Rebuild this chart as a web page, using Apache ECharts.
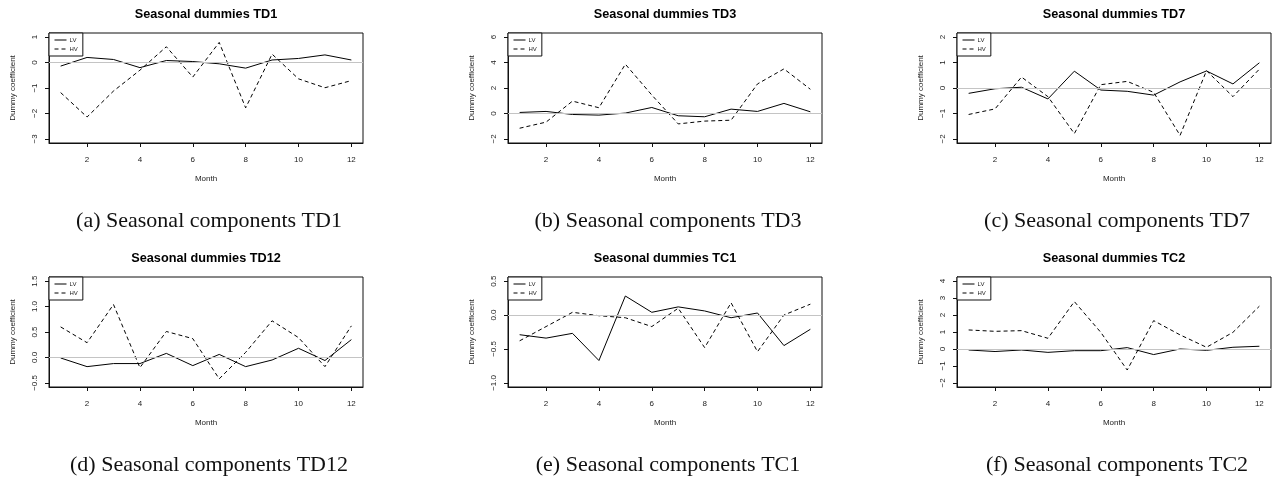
<!DOCTYPE html>
<html>
<head>
<meta charset="utf-8">
<script src="https://cdn.jsdelivr.net/npm/echarts@6/dist/echarts.min.js"></script>
<style>
  html, body { margin: 0; padding: 0; background: #fff; }
  #main { width: 1272px; height: 478px; }
</style>
</head>
<body>
<div id="main"></div>
<script>
// data
var months = [1, 2, 3, 4, 5, 6, 7, 8, 9, 10, 11, 12];
var monthTicks = [2, 4, 6, 8, 10, 12];

var td1LV = [-0.14, 0.20, 0.12, -0.20, 0.08, 0.04, -0.05, -0.22, 0.10, 0.16, 0.30, 0.10];
var td1HV = [-1.18, -2.14, -1.12, -0.30, 0.62, -0.57, 0.79, -1.78, 0.33, -0.64, -0.99, -0.71];
var td1Ticks = [-3, -2, -1, 0, 1];

var td3LV = [0.08, 0.16, -0.08, -0.13, 0.03, 0.47, -0.18, -0.26, 0.34, 0.16, 0.79, 0.13];
var td3HV = [-1.16, -0.68, 0.97, 0.45, 3.87, 1.45, -0.82, -0.60, -0.53, 2.32, 3.50, 1.90];
var td3Ticks = [-2, 0, 2, 4, 6];

var td7LV = [-0.21, -0.03, 0.03, -0.43, 0.66, -0.08, -0.13, -0.28, 0.24, 0.67, 0.16, 0.99];
var td7HV = [-1.04, -0.82, 0.43, -0.34, -1.79, 0.13, 0.26, -0.17, -1.86, 0.68, -0.34, 0.74];
var td7Ticks = [-2, -1, 0, 1, 2];

var td12LV = [-0.01, -0.18, -0.12, -0.12, 0.08, -0.16, 0.06, -0.18, -0.05, 0.18, -0.06, 0.35];
var td12HV = [0.60, 0.29, 1.04, -0.20, 0.51, 0.37, -0.42, 0.10, 0.72, 0.39, -0.18, 0.62];
var td12Ticks = [-0.5, 0, 0.5, 1, 1.5];

var tc1LV = [-0.29, -0.34, -0.27, -0.67, 0.28, 0.04, 0.12, 0.06, -0.04, 0.03, -0.45, -0.21];
var tc1HV = [-0.38, -0.17, 0.04, -0.01, -0.04, -0.17, 0.10, -0.48, 0.18, -0.54, 0.00, 0.16];
var tc1Ticks = [-1, -0.5, 0, 0.5];

var tc2LV = [-0.06, -0.15, -0.06, -0.20, -0.10, -0.10, 0.08, -0.33, 0.00, -0.08, 0.10, 0.16];
var tc2HV = [1.12, 1.04, 1.08, 0.63, 2.79, 0.98, -1.24, 1.67, 0.83, 0.10, 0.98, 2.52];
var tc2Ticks = [-2, -1, 0, 1, 2, 3, 4];

var panels = [
  { name: 'TD1', tag: '(a)', lv: td1LV, hv: td1HV, ticks: td1Ticks, dec: 0 },
  { name: 'TD3', tag: '(b)', lv: td3LV, hv: td3HV, ticks: td3Ticks, dec: 0 },
  { name: 'TD7', tag: '(c)', lv: td7LV, hv: td7HV, ticks: td7Ticks, dec: 0 },
  { name: 'TD12', tag: '(d)', lv: td12LV, hv: td12HV, ticks: td12Ticks, dec: 1 },
  { name: 'TC1', tag: '(e)', lv: tc1LV, hv: tc1HV, ticks: tc1Ticks, dec: 1 },
  { name: 'TC2', tag: '(f)', lv: tc2LV, hv: tc2HV, ticks: tc2Ticks, dec: 0 }
];

var lefts = [49, 508, 957];
var tops = [33, 277];
var plotW = 314, plotH = 110;
var sans = 'Liberation Sans, Arial, sans-serif';

var grids = [], xAxes = [], yAxes = [], series = [], legends = [], graphics = [];

function pairs(vals) {
  return months.map(function (m, k) { return [m, vals[k]]; });
}

panels.forEach(function (p, i) {
  var col = i % 3, row = Math.floor(i / 3);
  var L = lefts[col], T = tops[row];
  var lo = p.ticks[0], hi = p.ticks[p.ticks.length - 1];
  var pad = (hi - lo) * 0.04;
  var xpad = (12 - 1) * 0.04;

  grids.push({ left: L, top: T, width: plotW, height: plotH, show: true,
    borderColor: '#111', borderWidth: 1, backgroundColor: 'transparent' });

  xAxes.push({
    type: 'value', gridIndex: i, min: 1 - xpad, max: 12 + xpad,
    name: 'Month', nameLocation: 'middle', nameGap: 32,
    nameTextStyle: { fontFamily: sans, fontSize: 8, color: '#222' },
    axisLine: { show: true, onZero: false, lineStyle: { color: '#111' } },
    splitLine: { show: false },
    axisTick: { show: true, length: 4, customValues: monthTicks, lineStyle: { color: '#111' } },
    axisLabel: { customValues: monthTicks, fontFamily: sans, fontSize: 8, margin: 13, color: '#222' }
  });

  yAxes.push({
    type: 'value', gridIndex: i, min: lo - pad, max: hi + pad,
    name: 'Dummy coefficient', nameLocation: 'middle', nameGap: 32, nameRotate: 90,
    nameTextStyle: { fontFamily: sans, fontSize: 8, color: '#222' },
    axisLine: { show: true, onZero: false, lineStyle: { color: '#111' } },
    splitLine: { show: false },
    axisTick: { show: true, length: 4, customValues: p.ticks, lineStyle: { color: '#111' } },
    axisLabel: {
      customValues: p.ticks, rotate: 90, fontFamily: sans, fontSize: 8, margin: 10, color: '#222',
      formatter: function (v) { return (v < 0 ? '\u2212' : '') + Math.abs(v).toFixed(p.dec); }
    }
  });

  series.push({
    name: 'LV', type: 'line', xAxisIndex: i, yAxisIndex: i, data: pairs(p.lv),
    symbol: 'none', lineStyle: { color: '#000', width: 1 }, itemStyle: { color: '#000' },
    markLine: {
      silent: true, symbol: ['none', 'none'], label: { show: false },
      lineStyle: { color: '#c4c4c4', type: 'solid', width: 1 },
      data: [{ yAxis: 0 }]
    }
  });
  series.push({
    name: 'HV', type: 'line', xAxisIndex: i, yAxisIndex: i, data: pairs(p.hv),
    symbol: 'none', lineStyle: { color: '#000', width: 1, type: [4, 3] }, itemStyle: { color: '#000' }
  });

  legends.push({
    left: L, top: T, orient: 'vertical', data: ['LV', 'HV'],
    itemWidth: 12, itemHeight: 7, itemGap: 3, padding: [4, 5, 4, 5],
    borderColor: '#111', borderWidth: 1, backgroundColor: '#fff', borderRadius: 0,
    selectedMode: false,
    itemStyle: { color: 'rgba(0,0,0,0)', borderWidth: 0, opacity: 0 },
    lineStyle: { width: 1 },
    textStyle: { fontFamily: sans, fontSize: 6, color: '#222', padding: [0, 0, 0, -2] }
  });

  var cx = L + plotW / 2;
  graphics.push({
    type: 'text', x: cx, y: T - 19,
    style: { text: 'Seasonal dummies ' + p.name, textAlign: 'center', textVerticalAlign: 'middle',
      font: 'bold 12.7px ' + sans, fill: '#000' }
  });
  graphics.push({
    type: 'text', x: cx + 3, y: T + 188,
    style: { text: p.tag + ' Seasonal components ' + p.name, textAlign: 'center', textVerticalAlign: 'middle',
      font: '22px Liberation Serif, Times New Roman, serif', fill: '#111' }
  });
});

var myChart = echarts.init(document.getElementById('main'));
var option = {
  animation: false,
  grid: grids,
  xAxis: xAxes,
  yAxis: yAxes,
  legend: legends,
  series: series,
  graphic: graphics
};
myChart.setOption(option);
</script>
</body>
</html>
